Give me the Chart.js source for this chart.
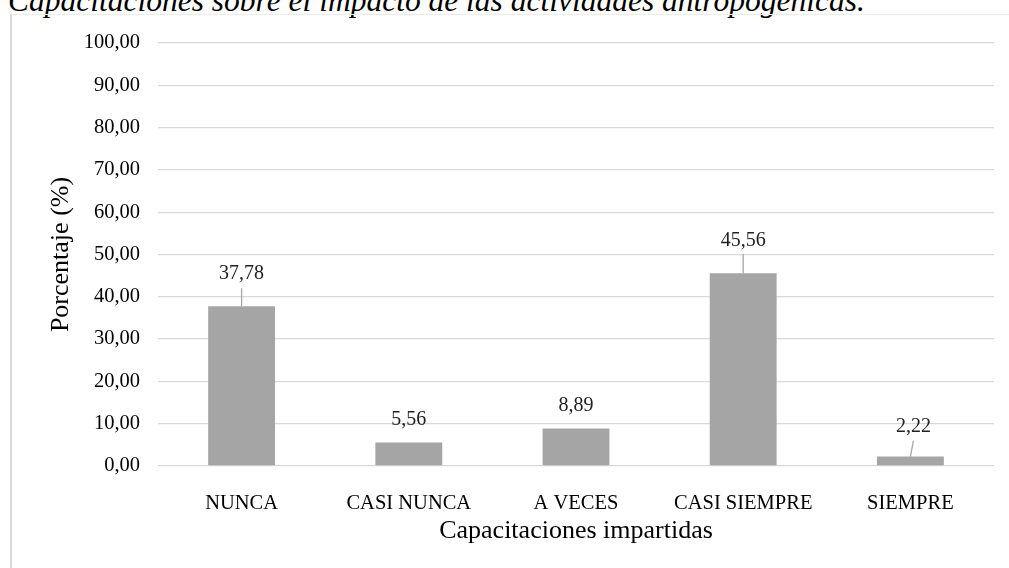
<!DOCTYPE html>
<html>
<head>
<meta charset="utf-8">
<script src="https://cdn.jsdelivr.net/npm/chart.js@4"></script>
<style>
  html, body { margin: 0; padding: 0; background: #fff; overflow: hidden; }
  #titulo {
    position: absolute; left: 8px; top: -15px; white-space: nowrap;
    font-family: "Liberation Serif", "Times New Roman", serif; font-style: italic;
    font-size: 31.5px; line-height: 31px; color: #000;
  }
  #marco {
    position: absolute; left: 10px; top: 14px; width: 1010px; height: 560px;
    border-left: 2px solid #d9d9d9; border-top: 1px solid #ececec;
  }
  #wrap { position: absolute; left: 0; top: 0; width: 1009px; height: 568px; }
</style>
</head>
<body>
<div id="titulo">Capacitaciones sobre el impacto de las actividades antropogénicas.</div>
<div id="marco"></div>
<div id="wrap"><canvas id="grafico"></canvas></div>
<script>
const categorias = ['NUNCA', 'CASI NUNCA', 'A VECES', 'CASI SIEMPRE', 'SIEMPRE'];
const porcentajes = [37.78, 5.56, 8.89, 45.56, 2.22];
const ticksY = [0, 10, 20, 30, 40, 50, 60, 70, 80, 90, 100];

const fuente = '"Liberation Serif", "Times New Roman", serif';
const formato = v => v.toFixed(2).replace('.', ',');

// etiquetas de datos con líneas guía (las que Excel movió a mano)
const etiquetasPlugin = {
    id: 'etiquetas',
    afterDatasetsDraw(chart, args, opts) {
        const ctx = chart.ctx;
        const meta = chart.getDatasetMeta(0);
        ctx.save();
        ctx.font = '20px ' + fuente;
        ctx.fillStyle = '#222';
        ctx.textAlign = 'center';
        ctx.textBaseline = 'middle';
        meta.data.forEach((bar, i) => {
            const off = opts.desplazamientos[i] || { dx: 0, dy: 0 };
            const lx = bar.x + off.dx;
            const ly = bar.y - 23 + off.dy;
            if (off.dy !== 0) {
                ctx.strokeStyle = '#a5a5a5';
                ctx.lineWidth = 1.3;
                ctx.beginPath();
                ctx.moveTo(bar.x, bar.y);
                ctx.lineTo(lx, ly + 14);
                ctx.stroke();
            }
            ctx.fillText(formato(chart.data.datasets[0].data[i]), lx, ly);
        });
        ctx.restore();
    }
};

new Chart(document.getElementById('grafico'), {
    type: 'bar',
    data: {
        labels: categorias,
        datasets: [{
            data: porcentajes,
            backgroundColor: '#a5a5a5',
            barPercentage: 0.4,
            categoryPercentage: 1
        }]
    },
    options: {
        responsive: true,
        maintainAspectRatio: false,
        animation: false,
        layout: { padding: { top: 43, right: 15, left: 0, bottom: 0 } },
        plugins: {
            legend: { display: false },
            tooltip: { enabled: false },
            etiquetas: {
                desplazamientos: [
                    { dx: 0, dy: -9 }, { dx: 0, dy: 0 }, { dx: 0, dy: 0 },
                    { dx: 0, dy: -10 }, { dx: 3, dy: -7 }
                ]
            }
        },
        scales: {
            x: {
                grid: { display: false },
                border: { display: false },
                ticks: { color: '#000', font: { family: fuente, size: 20.5 }, padding: 17, maxRotation: 0 },
                title: {
                    display: true, text: 'Capacitaciones impartidas', color: '#000',
                    font: { family: fuente, size: 26 }, padding: { top: 0, bottom: 21 }
                },
                afterFit(scale) { scale.height = 102; }
            },
            y: {
                min: 0, max: 100,
                afterBuildTicks(scale) { scale.ticks = ticksY.map(v => ({ value: v })); },
                grid: { color: '#d9d9d9', lineWidth: 1.3, drawTicks: false },
                border: { display: false },
                ticks: { color: '#000', font: { family: fuente, size: 20.5 }, padding: 18, callback: v => formato(v) },
                title: {
                    display: true, text: 'Porcentaje (%)', color: '#000',
                    font: { family: fuente, size: 26 }, padding: { top: 46, bottom: 0 }
                },
                afterFit(scale) { scale.width = 158; }
            }
        }
    },
    plugins: [etiquetasPlugin]
});
</script>
</body>
</html>
